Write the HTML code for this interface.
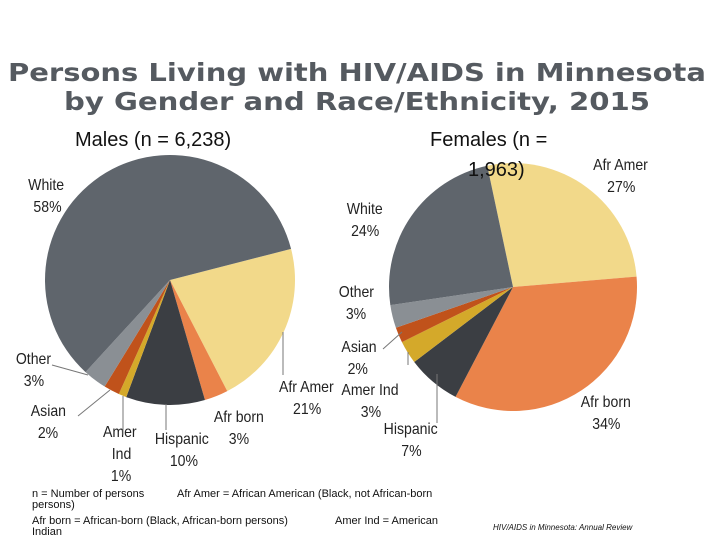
<!DOCTYPE html>
<html><head><meta charset="utf-8"><style>
body{margin:0;width:720px;height:540px;background:#fff;overflow:hidden;font-family:"Liberation Sans",sans-serif}
svg{display:block}
</style></head><body>
<svg width="720" height="540">
<text x="8" y="81" font-family="DejaVu Sans" font-size="25" font-weight="bold" fill="#555a60" textLength="698" lengthAdjust="spacingAndGlyphs">Persons Living with HIV/AIDS in Minnesota</text>
<text x="64" y="110" font-family="DejaVu Sans" font-size="25" font-weight="bold" fill="#555a60" textLength="586" lengthAdjust="spacingAndGlyphs">by Gender and Race/Ethnicity, 2015</text>
<text x="75" y="146" font-size="20" fill="#111">Males (n = 6,238)</text>
<text x="430" y="146" font-size="20" fill="#111">Females (n =</text>
<g id="male"></g>
<g id="female"></g>
<text x="468" y="176" font-size="20" fill="#111">1,963)</text>
<g font-size="16" fill="#222" transform="scale(0.88,1)">
<text x="32" y="190">White</text><text x="38" y="212">58%</text>
<text x="18" y="364">Other</text><text x="27" y="386">3%</text>
<text x="35" y="416">Asian</text><text x="43" y="438">2%</text>
<text x="117" y="437">Amer</text><text x="127" y="459">Ind</text><text x="126" y="481">1%</text>
<text x="176" y="444">Hispanic</text><text x="193" y="466">10%</text>
<text x="243" y="422">Afr born</text><text x="260" y="444">3%</text>
<text x="317" y="392">Afr Amer</text><text x="333" y="414">21%</text>
<text x="674" y="170">Afr Amer</text><text x="690" y="192">27%</text>
<text x="394" y="214">White</text><text x="399" y="236">24%</text>
<text x="385" y="297">Other</text><text x="393" y="319">3%</text>
<text x="388" y="352">Asian</text><text x="395" y="374">2%</text>
<text x="388" y="395">Amer Ind</text><text x="410" y="417">3%</text>
<text x="436" y="434">Hispanic</text><text x="456" y="456">7%</text>
<text x="660" y="407">Afr born</text><text x="673" y="429">34%</text>
</g>
<g stroke="#777" stroke-width="1" fill="none">
<path d="M52 365 L88 375"/><path d="M78 416 L110 390"/><path d="M123 435 L123 396"/><path d="M166 430 L166 404"/><path d="M283 375 L283 332"/>
<path d="M383 349 L402 332"/><path d="M408 365 L408 352"/><path d="M437 423 L437 374"/>
</g>
<g font-size="11" fill="#111">
<text x="32" y="497">n = Number of persons</text>
<text x="32" y="508">persons)</text>
<text x="177" y="497">Afr Amer = African American (Black, not African-born</text>
<text x="32" y="524">Afr born = African-born (Black, African-born persons)</text>
<text x="335" y="524">Amer Ind = American</text>
<text x="32" y="535">Indian</text>
<text x="493" y="530" font-size="8" font-style="italic">HIV/AIDS in Minnesota: Annual Review</text>
</g>
</svg>
<script>
const categories=["Afr Amer","Afr born","Hispanic","Amer Ind","Asian","Other","White"];
const colors=["#f2d98a","#ea834a","#3b3e43","#d4a92a","#c0521b","#8a8f94","#5f656c"];
const maleValues=[21,3,10,1,2,3,58];
const femaleValues=[27,34,7,3,2,3,24];
function drawPie(id,vals,cx,cy,r,start){
  const g=document.getElementById(id);
  const tot=vals.reduce((a,b)=>a+b,0);
  let a=start*Math.PI/180;
  vals.forEach((v,i)=>{
    const b=a+v/tot*2*Math.PI;
    const p=document.createElementNS("http://www.w3.org/2000/svg","path");
    const x1=cx+r*Math.cos(a),y1=cy+r*Math.sin(a),x2=cx+r*Math.cos(b),y2=cy+r*Math.sin(b);
    p.setAttribute("d",`M${cx} ${cy} L${x1} ${y1} A${r} ${r} 0 ${b-a>Math.PI?1:0} 1 ${x2} ${y2} Z`);
    p.setAttribute("fill",colors[i]);
    
    
    g.appendChild(p);a=b;
  });
}
drawPie("male",maleValues,170,280,125,-14.4);
drawPie("female",femaleValues,513,287,124,-102);
</script>
</body></html>
